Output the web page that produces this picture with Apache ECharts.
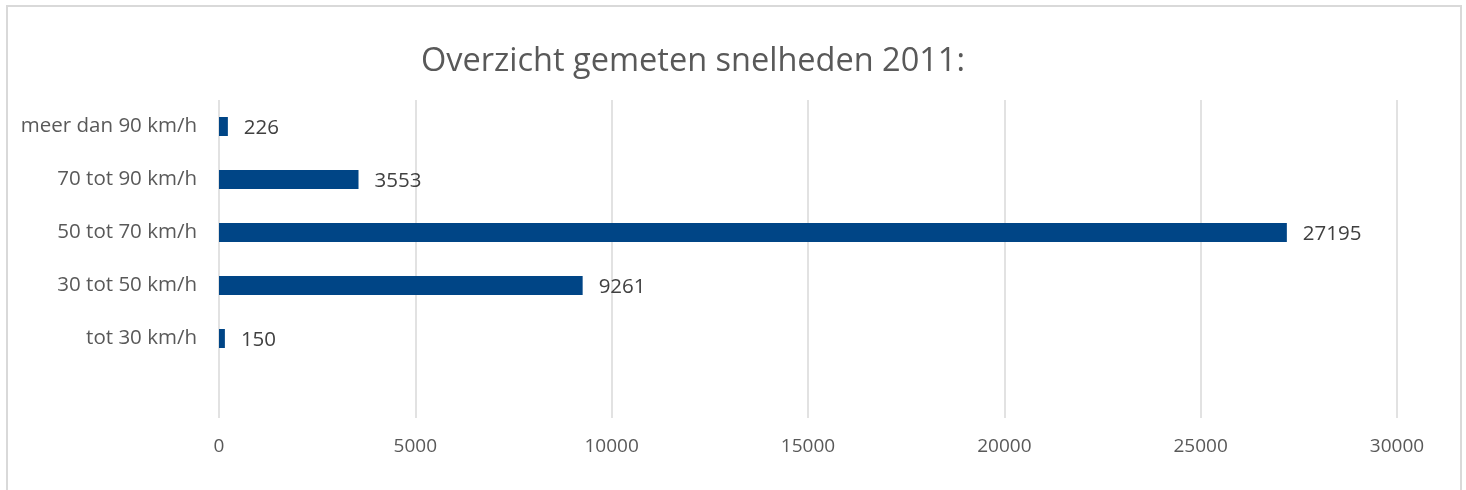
<!DOCTYPE html>
<html lang="nl">
<head>
  <meta charset="UTF-8">
  <script src="https://cdn.jsdelivr.net/npm/echarts@6/dist/echarts.min.js"></script>
  <title>Overzicht gemeten snelheden 2011</title>
  <style>
    html, body { margin: 0; padding: 0; background: #ffffff; }
    .frame {
      position: absolute;
      left: 6px;
      top: 5px;
      width: 1452px;
      height: 500px;
      border: 2px solid #d9d9d9;
    }
    #chart {
      position: absolute;
      left: 0;
      top: 0;
      width: 1466px;
      height: 490px;
    }
  </style>
</head>
<body>
  <div class="frame"></div>
  <div id="chart"></div>

<script>
  // categorieën van onder naar boven (lege rij onderaan zoals in het origineel)
  const categories = ['', 'tot 30 km/h', '30 tot 50 km/h', '50 tot 70 km/h', '70 tot 90 km/h', 'meer dan 90 km/h'];
  const counts = [null, 150, 9261, 27195, 3553, 226];
  const xTicks = [0, 5000, 10000, 15000, 20000, 25000, 30000];

  const font = '"Open Sans", "Noto Sans", sans-serif';
  const chart = echarts.init(document.getElementById('chart'));

  const option = {
    animation: false,
    title: {
      text: 'Overzicht gemeten snelheden 2011:',
      left: 688,
      top: 40,
      textAlign: 'center',
      textStyle: {
        fontFamily: font,
        fontSize: 32.5,
        fontWeight: 'normal',
        color: '#595959'
      }
    },
    grid: {
      left: 219,
      right: 69,
      top: 100,
      bottom: 72
    },
    xAxis: {
      type: 'value',
      min: xTicks[0],
      max: xTicks[xTicks.length - 1],
      interval: 5000,
      axisLine: { show: false },
      axisTick: { show: false },
      axisLabel: {
        margin: 19,
        fontFamily: font,
        fontSize: 19,
        color: '#595959',
        formatter: v => String(v)
      },
      splitLine: { lineStyle: { color: '#d9d9d9', width: 1.5 } }
    },
    yAxis: {
      type: 'category',
      data: categories,
      axisLine: { show: false },
      axisTick: { show: false },
      axisLabel: {
        margin: 22,
        fontFamily: font,
        fontSize: 20.5,
        color: '#595959'
      }
    },
    series: [{
      type: 'bar',
      data: counts,
      barWidth: 19,
      itemStyle: { color: '#004586' },
      label: {
        show: true,
        position: 'right',
        distance: 16,
        offset: [0, 2],
        fontFamily: font,
        fontSize: 20.5,
        color: '#404040'
      }
    }]
  };
  chart.setOption(option);
</script>
</body>
</html>
